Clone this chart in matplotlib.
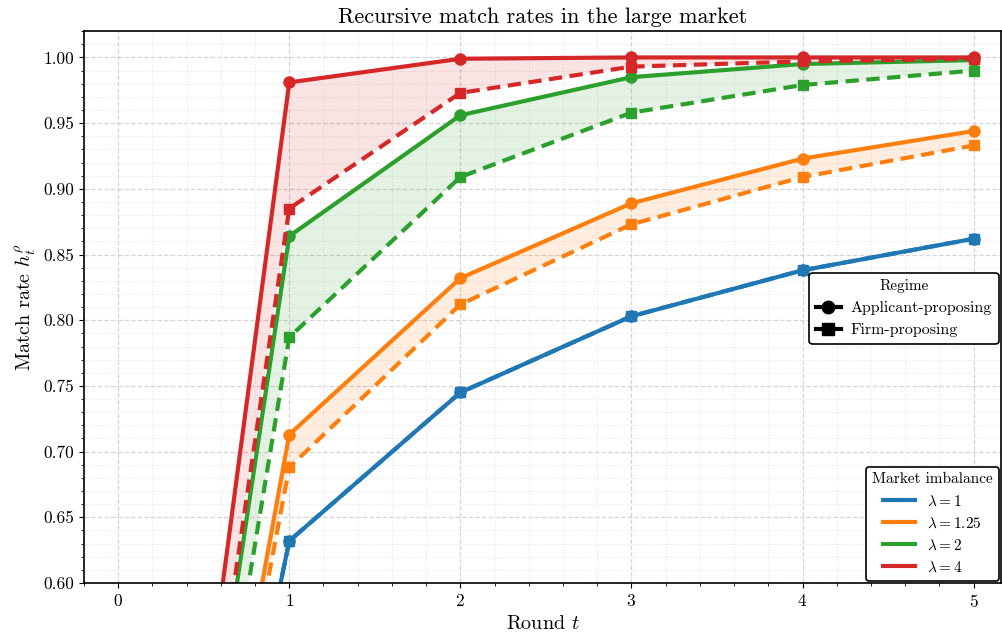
import matplotlib
matplotlib.use("Agg")
import matplotlib.pyplot as plt
from matplotlib.lines import Line2D
from matplotlib.ticker import MultipleLocator, FormatStrFormatter

plt.rcParams["font.family"] = "serif"
plt.rcParams["font.serif"] = ["cmr10"]
plt.rcParams["mathtext.fontset"] = "cm"
plt.rcParams["axes.formatter.use_mathtext"] = True
plt.rcParams["axes.unicode_minus"] = False

# Data: match rates per round (round 0 starts at zero)
rounds = [0, 1, 2, 3, 4, 5]
lambdas = ["1", "1.25", "2", "4"]
colors = ["#1f77b4", "#ff7f0e", "#2ca02c", "#d62728"]

applicant = {
    "1":    [0.0, 0.632, 0.745, 0.803, 0.838, 0.862],
    "1.25": [0.0, 0.713, 0.832, 0.889, 0.923, 0.944],
    "2":    [0.0, 0.864, 0.956, 0.985, 0.995, 0.998],
    "4":    [0.0, 0.981, 0.999, 1.000, 1.000, 1.000],
}
firm = {
    "1":    [0.0, 0.632, 0.745, 0.803, 0.838, 0.862],
    "1.25": [0.0, 0.688, 0.812, 0.873, 0.909, 0.933],
    "2":    [0.0, 0.787, 0.909, 0.958, 0.979, 0.990],
    "4":    [0.0, 0.885, 0.973, 0.993, 0.997, 0.999],
}

fig = plt.figure(figsize=(10.03, 6.36), dpi=100)
ax = fig.add_axes([0.0837, 0.0833, 0.9143, 0.8677])

for lam, col in zip(lambdas, colors):
    a = applicant[lam]
    f = firm[lam]
    ax.fill_between(rounds, f, a, color=col, alpha=0.13, linewidth=0)
    ax.plot(rounds, a, "-", marker="o", color=col, lw=3, ms=8)
    ax.plot(rounds, f, "--", marker="s", color=col, lw=3, ms=7.5,
            dashes=(3.2, 1.8))

ax.set_xlim(-0.2, 5.16)
ax.set_ylim(0.60, 1.02)
ax.xaxis.set_major_locator(MultipleLocator(1))
ax.xaxis.set_minor_locator(MultipleLocator(0.2))
ax.yaxis.set_major_locator(MultipleLocator(0.05))
ax.yaxis.set_minor_locator(MultipleLocator(0.01))
ax.yaxis.set_major_formatter(FormatStrFormatter("%.2f"))
ax.grid(which="major", linestyle="--", color="#cccccc", alpha=0.8, lw=0.9)
ax.grid(which="minor", linestyle=":", color="#dddddd", alpha=0.7, lw=0.8)
ax.set_axisbelow(True)
ax.tick_params(labelsize=12.5)
for s in ax.spines.values():
    s.set_linewidth(1.2)

ax.set_title("Recursive match rates in the large market", fontsize=16)
ax.set_xlabel("Round $t$", fontsize=14.5)
ax.set_ylabel(r"Match rate $h_t^{\rho}$", fontsize=14.5)

regime_handles = [
    Line2D([], [], color="black", lw=3, marker="o", ms=9),
    Line2D([], [], color="black", lw=3, marker="s", ms=8.5),
]
leg1 = ax.legend(regime_handles, ["Applicant-proposing", "Firm-proposing"],
                 title="Regime", loc="center right", bbox_to_anchor=(1.0, 0.498),
                 fontsize=11.5, title_fontsize=11, handlelength=1.6,
                 handletextpad=0.6, borderaxespad=0.15,
                 framealpha=1, edgecolor="black", fancybox=True)
leg1.get_frame().set_linewidth(1.2)
ax.add_artist(leg1)

lam_handles = [Line2D([], [], color=c, lw=3) for c in colors]
leg2 = ax.legend(lam_handles, [r"$\lambda = %s$" % l for l in lambdas],
                 title="Market imbalance", loc="lower right",
                 fontsize=11, title_fontsize=11, handlelength=2.1,
                 borderaxespad=0.15,
                 framealpha=1, edgecolor="black", fancybox=True)
leg2.get_frame().set_linewidth(1.2)

fig.savefig("out.png", dpi=100)
